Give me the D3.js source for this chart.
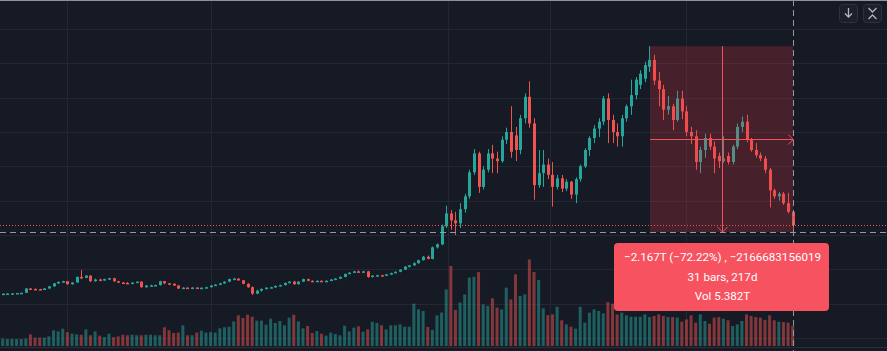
<!DOCTYPE html>
<html><head><meta charset="utf-8">
<script src="https://cdn.jsdelivr.net/npm/d3@7"></script>
<style>html,body{margin:0;padding:0;background:#161a25;overflow:hidden}</style>
</head><body><svg id="c" width="887" height="351"></svg>
<script>
// Weekly candles (values in T)
const open  = [.113,.115,.117,.119,.122,.125,.175,.170,.168,.162,
.175,.200,.235,.252,.260,.225,.245,.310,.300,.325,
.260,.280,.275,.285,.295,.260,.245,.240,.238,.244,
.255,.190,.210,.212,.215,.260,.235,.230,.210,.175,
.185,.183,.186,.182,.184,.190,.210,.220,.235,.255,
.285,.290,.270,.230,.190,.115,.150,.170,.185,.190,
.205,.215,.240,.255,.225,.255,.285,.265,.260,.265,
.255,.265,.280,.290,.310,.345,.360,.375,.365,.375,
.310,.325,.330,.325,.340,.355,.370,.395,.430,.445,
.470,.505,.545,.520,.655,.690,.900,1.05,.970,.935,
1.10,1.25,1.53,1.75,1.36,1.56,1.75,1.69,1.66,1.91,
2.00,1.96,1.79,2.16,2.41,2.10,1.38,1.52,1.62,1.50,
1.36,1.46,1.34,1.42,1.27,1.45,1.60,1.79,1.93,2.04,
2.12,2.39,2.14,2.00,1.95,2.16,2.30,2.43,2.55,2.62,
2.76,2.84,2.60,2.50,2.26,2.30,2.14,2.39,2.24,2.00,
1.95,1.65,1.79,1.93,1.83,1.72,1.66,1.72,1.65,1.83,
2.06,2.12,1.91,1.79,1.73,1.69,1.56,1.32,1.25,1.28,
1.17,1.07];
const high  = [.118,.120,.121,.124,.127,.180,.180,.176,.172,.180,
.205,.240,.258,.265,.264,.250,.315,.390,.330,.330,
.290,.290,.290,.300,.300,.265,.250,.250,.250,.258,
.260,.215,.220,.220,.265,.265,.240,.235,.215,.190,
.190,.190,.190,.188,.195,.215,.225,.240,.260,.290,
.300,.295,.275,.235,.200,.160,.175,.190,.195,.210,
.220,.245,.260,.265,.260,.290,.290,.270,.270,.270,
.270,.285,.295,.315,.350,.365,.380,.385,.380,.380,
.330,.335,.335,.345,.360,.375,.400,.435,.450,.480,
.510,.555,.560,.665,.700,.920,1.14,1.09,1.07,1.17,
1.28,1.56,1.80,1.77,1.60,1.80,1.85,1.77,1.95,2.05,
2.30,2.06,2.20,2.45,2.59,2.16,1.79,1.79,1.69,1.65,
1.50,1.50,1.45,1.43,1.47,1.62,1.81,1.95,2.08,2.16,
2.42,2.45,2.20,2.10,2.20,2.32,2.61,2.64,2.72,2.82,
3.00,2.90,2.70,2.55,2.42,2.33,2.48,2.48,2.30,2.06,
2.02,1.83,1.98,1.98,1.89,1.76,1.95,1.76,1.85,2.10,
2.18,2.20,1.93,1.87,1.76,1.72,1.58,1.34,1.30,1.30,
1.29,1.09];
const low   = [.110,.112,.114,.116,.119,.122,.165,.163,.158,.160,
.172,.196,.230,.248,.220,.218,.240,.285,.295,.250,
.255,.260,.265,.280,.250,.240,.235,.235,.235,.240,
.185,.185,.205,.205,.210,.225,.225,.205,.170,.170,
.178,.178,.180,.178,.180,.188,.205,.215,.230,.250,
.280,.265,.225,.185,.100,.110,.140,.165,.180,.185,
.200,.210,.235,.220,.220,.250,.260,.255,.255,.250,
.250,.260,.275,.285,.305,.340,.355,.360,.360,.300,
.305,.320,.320,.320,.335,.350,.365,.390,.420,.440,
.465,.500,.515,.515,.640,.680,.880,.860,.800,.880,
1.06,1.22,1.50,1.29,1.33,1.53,1.52,1.52,1.64,1.86,
1.70,1.66,1.74,2.10,2.05,1.21,1.35,1.36,1.45,1.13,
1.33,1.30,1.31,1.22,1.17,1.42,1.58,1.72,1.87,1.94,
2.08,1.87,1.87,1.83,1.83,2.12,2.20,2.38,2.50,2.58,
2.70,2.55,2.30,2.14,2.20,2.02,2.12,2.15,1.95,1.86,
1.56,1.52,1.70,1.79,1.52,1.58,1.64,1.62,1.62,1.80,
2.00,1.88,1.77,1.70,1.66,1.52,1.12,1.22,1.20,1.15,
1.05,.833];
const close = [.115,.117,.119,.122,.125,.175,.170,.168,.162,.175,
.200,.235,.252,.260,.225,.245,.310,.300,.325,.260,
.280,.275,.285,.295,.260,.245,.240,.238,.244,.255,
.190,.210,.212,.215,.260,.235,.230,.210,.175,.185,
.183,.186,.182,.184,.190,.210,.220,.235,.255,.285,
.290,.270,.230,.190,.115,.150,.170,.185,.190,.205,
.215,.240,.255,.225,.255,.285,.265,.260,.265,.255,
.265,.280,.290,.310,.345,.360,.375,.365,.375,.310,
.325,.330,.325,.340,.355,.370,.395,.430,.445,.470,
.505,.545,.520,.655,.690,.900,1.05,.970,.935,1.10,
1.25,1.53,1.75,1.36,1.56,1.75,1.69,1.66,1.91,2.00,
1.77,1.79,2.16,2.41,2.10,1.38,1.52,1.62,1.50,1.36,
1.46,1.34,1.42,1.27,1.45,1.60,1.79,1.93,2.04,2.12,
2.39,2.14,2.00,1.95,2.16,2.30,2.43,2.61,2.68,2.78,
2.84,2.60,2.50,2.26,2.30,2.14,2.39,2.24,2.00,1.95,
1.65,1.79,1.93,1.83,1.69,1.66,1.69,1.65,1.83,2.06,
2.12,1.91,1.79,1.73,1.69,1.56,1.32,1.25,1.28,1.17,
1.07,.915];
// Weekly volume (B)
const volume = [41,39,39,39,39,41,65,47,47,47,
54,88,82,97,78,69,65,63,93,60,
82,58,50,69,50,54,63,60,63,60,
60,63,63,60,60,105,88,73,75,116,
60,60,75,86,75,78,75,99,105,108,
138,172,157,175,164,142,142,119,153,129,
140,116,159,175,138,99,112,73,84,69,
58,75,67,60,114,82,103,110,80,93,
136,129,116,93,116,116,121,108,108,237,
205,196,106,90,172,187,317,448,202,243,
289,383,388,414,233,224,267,215,205,327,
261,401,280,289,485,414,370,211,172,177,
220,144,121,108,97,220,131,187,205,196,
183,246,237,177,187,172,164,164,164,177,
162,168,177,168,162,162,159,136,149,172,
131,177,140,125,159,162,153,144,112,121,
140,177,168,162,159,146,172,144,136,134,
131,112];
const priceTicks = [-0.4,0,0.4,0.8,1.2,1.6,2.0,2.4,2.8,3.2];
const timeGridBars = [14,45,96.4,118.5,148];
const measureFromBar = 140, measureToBar = 171;
const measureTopPrice = 3.0, measureBottomPrice = 0.833;
const tooltipLines = ["\u22122.167T (\u221272.22%) , \u22122166683156019", "31 bars, 217d", "Vol 5.382T"];

const W = 887, H = 351;
const UP = "#26a69a", DOWN = "#ef5350";
const svg = d3.select("#c");
const n = close.length;
const x = d3.scaleLinear().domain([0, n - 1]).range([2.7, 792.7]);
const y = d3.scaleLinear().domain([-0.507, 3.539]).range([347, 0]);
const yv = d3.scaleLinear().domain([0, 560]).range([346, 246]);
const idx = d3.range(n);
const isUp = i => close[i] >= open[i];

svg.append("rect").attr("width", W).attr("height", H).attr("fill", "#161a25");

// grid
svg.append("g").selectAll("line").data(priceTicks).join("line")
  .attr("x1", 0).attr("x2", W)
  .attr("y1", d => Math.round(y(d)) + 0.5).attr("y2", d => Math.round(y(d)) + 0.5)
  .attr("stroke", "#232733");
svg.append("g").selectAll("line").data(timeGridBars).join("line")
  .attr("y1", 0).attr("y2", 347)
  .attr("x1", d => Math.round(x(d)) + 0.5).attr("x2", d => Math.round(x(d)) + 0.5)
  .attr("stroke", "#232733");

// volume
svg.append("g").selectAll("rect").data(idx).join("rect")
  .attr("x", i => x(i) - 1.5).attr("width", 3)
  .attr("y", i => yv(volume[i])).attr("height", i => yv(0) - yv(volume[i]))
  .attr("fill", i => isUp(i) ? UP : DOWN).attr("fill-opacity", 0.5);

// candles
const cg = svg.append("g");
cg.selectAll("line").data(idx).join("line")
  .attr("x1", i => Math.round(x(i)) + 0.5).attr("x2", i => Math.round(x(i)) + 0.5)
  .attr("y1", i => y(high[i])).attr("y2", i => y(low[i]))
  .attr("stroke", i => isUp(i) ? UP : DOWN).attr("stroke-width", 1);
cg.selectAll("rect").data(idx).join("rect")
  .attr("x", i => Math.round(x(i)) - 1).attr("width", 3)
  .attr("y", i => y(Math.max(open[i], close[i])))
  .attr("height", i => Math.max(1.5, Math.abs(y(open[i]) - y(close[i]))))
  .attr("fill", i => isUp(i) ? UP : DOWN);

// last price line
const lp = Math.round(y(close[n - 1])) + 0.5;
svg.append("line").attr("x1", 0).attr("x2", W).attr("y1", lp).attr("y2", lp)
  .attr("stroke", DOWN).attr("stroke-dasharray", "1,2");

// measure range
const mx0 = x(measureFromBar) + 0.5, mx1 = x(measureToBar) + 0.5;
const my0 = y(measureTopPrice), my1 = y(measureBottomPrice);
const mg = svg.append("g");
mg.append("rect").attr("x", mx0).attr("y", my0).attr("width", mx1 - mx0).attr("height", my1 - my0)
  .attr("fill", "#f23645").attr("fill-opacity", 0.22);
const mcx = Math.round((mx0 + mx1) / 2) + 0.5, mcy = Math.round((my0 + my1) / 2) + 0.5;
const ms = "#f0515c";
mg.append("line").attr("x1", mcx).attr("x2", mcx).attr("y1", my0).attr("y2", my1)
  .attr("stroke", ms);
mg.append("polyline").attr("points", `${mcx-5},${my1-5} ${mcx},${my1} ${mcx+5},${my1-5}`)
  .attr("fill", "none").attr("stroke", ms);
mg.append("line").attr("x1", mx0).attr("x2", mx1).attr("y1", mcy).attr("y2", mcy)
  .attr("stroke", ms);
mg.append("polyline").attr("points", `${mx1-5},${mcy-5} ${mx1},${mcy} ${mx1-5},${mcy+5}`)
  .attr("fill", "none").attr("stroke", ms);

// crosshair
const chx = Math.round(mx1) + 0.5, chy = Math.round(my1) + 0.5;
svg.append("line").attr("x1", 0).attr("x2", W).attr("y1", chy).attr("y2", chy)
  .attr("stroke", "#9598a1").attr("stroke-dasharray", "6,4");
svg.append("line").attr("x1", chx).attr("x2", chx).attr("y1", 0).attr("y2", H)
  .attr("stroke", "#9598a1").attr("stroke-dasharray", "6,4");

// tooltip
const tg = svg.append("g");
tg.append("rect").attr("x", 614).attr("y", 243).attr("width", 215).attr("height", 68)
  .attr("rx", 4).attr("fill", "#f7525f");
tg.selectAll("text").data(tooltipLines).join("text")
  .attr("x", mcx).attr("y", (d, i) => 261 + i * 19.5)
  .attr("text-anchor", "middle").attr("fill", "#ffffff")
  .attr("font-family", "Roboto, 'Noto Sans', sans-serif").attr("font-size", 11.6)
  .text(d => d);

// top-right buttons
const bg = svg.append("g");
[839.5, 863.5].forEach(bx => bg.append("rect").attr("x", bx).attr("y", 4.5).attr("width", 18).attr("height", 18)
  .attr("rx", 3).attr("fill", "#1c202b").attr("stroke", "#2e323d"));
bg.append("line").attr("x1", 848.5).attr("x2", 848.5).attr("y1", 8).attr("y2", 17)
  .attr("stroke", "#b2b5be").attr("stroke-width", 1.3);
bg.append("polyline").attr("points", "845,13.5 848.5,17 852,13.5").attr("fill", "none")
  .attr("stroke", "#b2b5be").attr("stroke-width", 1.3);
bg.append("polyline").attr("points", "868.5,8 872.5,12 876.5,8").attr("fill", "none")
  .attr("stroke", "#b2b5be").attr("stroke-width", 1.3);
bg.append("polyline").attr("points", "868.5,19 872.5,15 876.5,19").attr("fill", "none")
  .attr("stroke", "#b2b5be").attr("stroke-width", 1.3);

// borders
svg.append("line").attr("x1", 0).attr("x2", W).attr("y1", 0.5).attr("y2", 0.5)
  .attr("stroke", "#8f929b");
svg.append("line").attr("x1", 0).attr("x2", W).attr("y1", 347.5).attr("y2", 347.5)
  .attr("stroke", "#2a2e39");
</script></body></html>
